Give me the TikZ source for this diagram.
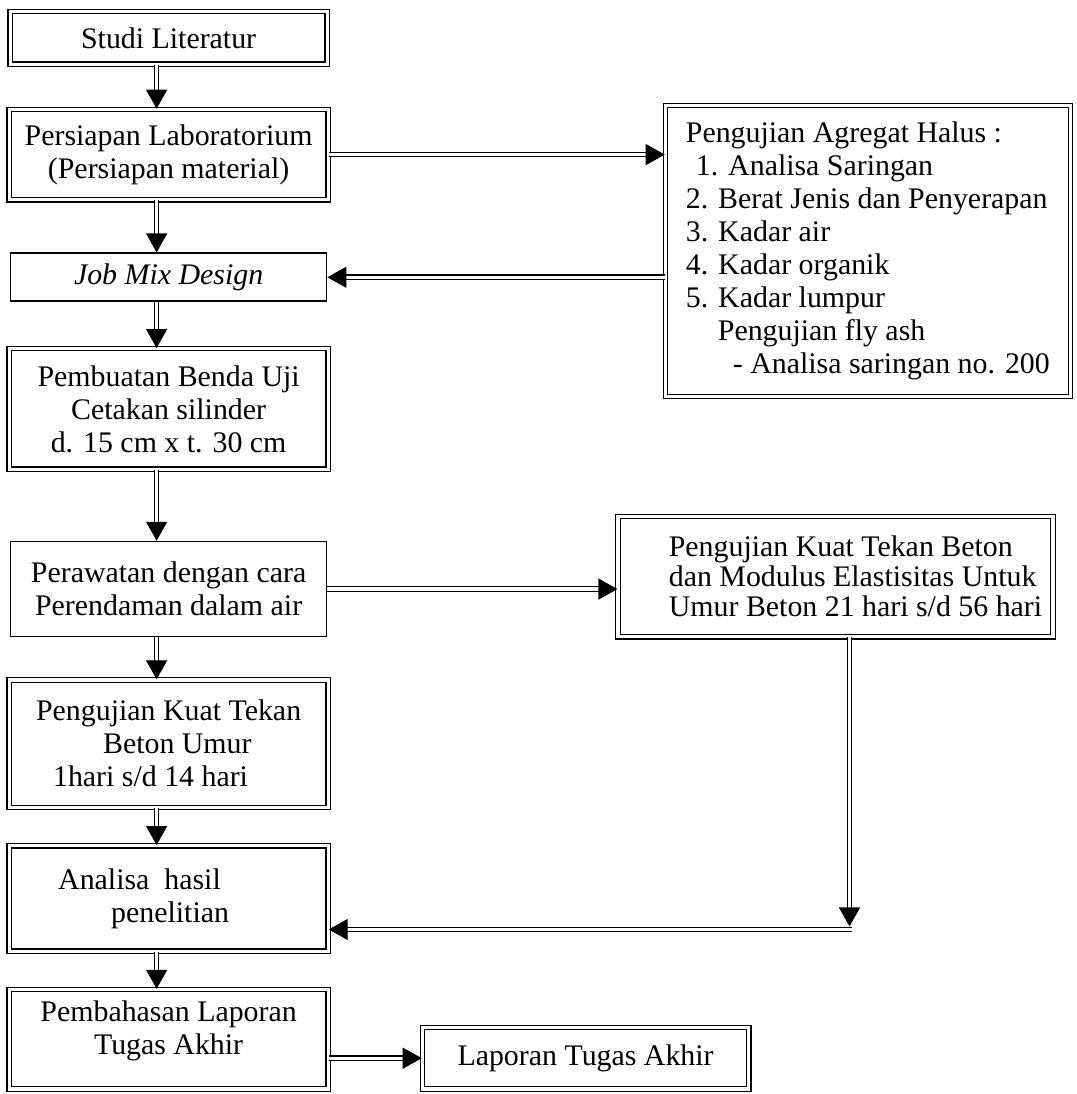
\documentclass[tikz,border=0pt]{standalone}
\usepackage{fontspec}
\setmainfont{Liberation Serif}
\usepackage{tikz}
\usetikzlibrary{positioning,arrows.meta}

\begin{document}
\begin{tikzpicture}[
    dbox/.style={rectangle, draw, line width=0.7pt, double, double distance=1.8pt,
        minimum width=6.38cm, inner sep=2pt, align=center,
        font=\fontsize{17}{18.8}\selectfont},
    sbox/.style={rectangle, draw, line width=0.9pt, minimum width=6.32cm,
        inner sep=2pt, align=center, font=\fontsize{17}{18.8}\selectfont},
    arr/.style={-{Triangle[length=0.38cm, width=0.42cm]}, line width=0.7pt,
        double, double distance=1.8pt}
]
\useasboundingbox (0,0) rectangle (21.52,-21.88);
\node[dbox, minimum width=6.34cm, minimum height=1.05cm, anchor=north west] (studi) at (0.19,-0.22) {Studi Literatur};
\node[dbox, minimum height=1.81cm, below=0.88cm of studi] (persiapan) {Persiapan Laboratorium\\(Persiapan material)};
\node[sbox, minimum height=0.96cm, below=1.04cm of persiapan, font=\fontsize{17}{18.8}\selectfont\itshape] (jobmix) {Job Mix Design};
\node[dbox, minimum height=2.41cm, below=0.92cm of jobmix] (pembuatan) {Pembuatan Benda Uji\\Cetakan silinder\\d. 15 cm x t. 30 cm};
\node[sbox, minimum height=1.9cm, below=1.42cm of pembuatan] (perawatan) {Perawatan dengan cara\\Perendaman dalam air};
\node[dbox, minimum height=2.55cm, below=0.84cm of perawatan, align=left] (kuat) {\hspace*{0.4cm}Pengujian Kuat Tekan\hspace*{0.4cm}\\\hspace*{1.74cm}Beton Umur\\\hspace*{0.74cm}1hari s/d 14 hari};
\node[dbox, minimum height=2.11cm, below=0.74cm of kuat, align=left] (analisa) {Analisa~ hasil\\\hspace*{1.06cm}penelitian\hspace*{1.0cm}};
\node[dbox, minimum height=1.99cm, below=0.74cm of analisa, text depth=0.45cm] (pembahasan) {Pembahasan Laporan\\Tugas Akhir};
\node[dbox, minimum width=6.53cm, minimum height=1.23cm, above right=0cm and 1.86cm of pembahasan.south east] (laporan) {Laporan Tugas Akhir};
\node[dbox, minimum width=8.1cm, minimum height=5.82cm, align=left,
    below right=-0.08cm and 6.72cm of persiapan.north east] (agregat) {Pengujian Agregat Halus :\\
\hspace*{0.2cm}1. Analisa Saringan\\
2. Berat Jenis dan Penyerapan\\
3. Kadar air\\
4. Kadar organik\\
5. Kadar lumpur\\
\hspace*{0.64cm}Pengujian fly ash\\
\hspace*{0.94cm}- Analisa saringan no. 200};
\node[dbox, minimum width=8.7cm, minimum height=2.41cm, align=left,
    font=\fontsize{17}{17}\selectfont, right=5.8cm of perawatan.east, yshift=0.25cm] (modulus) {\hspace*{0.8cm}Pengujian Kuat Tekan Beton\\
\hspace*{0.8cm}dan Modulus Elastisitas Untuk\\
\hspace*{0.8cm}Umur Beton 21 hari s/d 56 hari};

% alur utama
\draw[arr] ([xshift=-0.24cm]studi.south) -- ([xshift=-0.24cm]persiapan.north);
\draw[arr] ([xshift=-0.24cm]persiapan.south) -- ([xshift=-0.24cm]jobmix.north);
\draw[arr] ([xshift=-0.24cm]jobmix.south) -- ([xshift=-0.24cm]pembuatan.north);
\draw[arr] ([xshift=-0.24cm]pembuatan.south) -- ([xshift=-0.24cm]perawatan.north);
\draw[arr] ([xshift=-0.24cm]perawatan.south) -- ([xshift=-0.24cm]kuat.north);
\draw[arr] ([xshift=-0.24cm]kuat.south) -- ([xshift=-0.24cm]analisa.north);
\draw[arr] ([xshift=-0.24cm]analisa.south) -- ([xshift=-0.24cm]pembahasan.north);

% cabang ke kanan
\draw[arr] (persiapan.east) -- (persiapan.east -| agregat.west);
\draw[arr] (agregat.west |- jobmix.east) -- (jobmix.east);
\draw[arr] (perawatan.east) -- (perawatan.east -| modulus.west);
\coordinate (drop) at ([xshift=0.28cm]modulus.south);
\coordinate (hit) at ([yshift=-0.62cm]analisa.east);
\coordinate (turn) at (drop |- hit);
\draw[arr] (drop) -- ([yshift=0.06cm]turn);
\draw[arr] ([xshift=0.05cm]turn) -- (hit);
\draw[arr] (pembahasan.east |- laporan.west) -- (laporan.west);
\end{tikzpicture}
\end{document}
